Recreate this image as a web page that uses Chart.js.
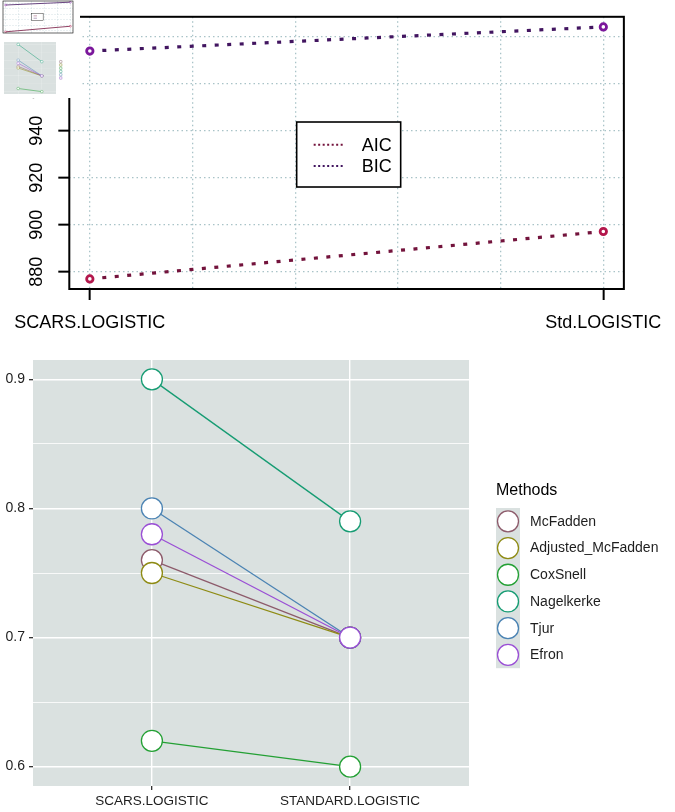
<!DOCTYPE html>
<html>
<head>
<meta charset="utf-8">
<title>AIC/BIC and pseudo R² comparison</title>
<script src="https://cdn.jsdelivr.net/npm/chart.js@4.4.1/dist/chart.umd.min.js"></script>
<style>
  html, body { margin:0; padding:0; background:#fff; }
  body { position:relative; width:675px; height:812px; overflow:hidden; }
  canvas { position:absolute; display:block; }
  #icChart { left:0; top:0; }
  #r2Chart { left:0; top:340px; }
  #inset { position:absolute; left:0; top:0; width:80px; height:98px; background:#fff; }
  #insetTop { left:0; top:0; }
  #insetBottom { left:0; top:40px; }
</style>
</head>
<body>
<canvas id="icChart" width="675" height="340"></canvas>
<canvas id="r2Chart" width="675" height="472"></canvas>
<div id="inset">
  <canvas id="insetTop" width="80" height="41"></canvas>
  <canvas id="insetBottom" width="80" height="57"></canvas>
</div>
<script>
// ---------------- data ----------------
const icModels = ['SCARS.LOGISTIC', 'Std.LOGISTIC'];
const aicValues = [876.9, 897.1];
const bicValues = [974.0, 984.3];
const icYTicks = [880, 900, 920, 940, 960, 980];
const icXGrid = [1, 1.2, 1.4, 1.6, 1.8, 2];

const r2Models = ['SCARS.LOGISTIC', 'STANDARD.LOGISTIC'];
const r2Methods = ['McFadden', 'Adjusted_McFadden', 'CoxSnell', 'Nagelkerke', 'Tjur', 'Efron'];
const mcFadden = [0.76, 0.70];
const adjustedMcFadden = [0.75, 0.70];
const coxSnell = [0.62, 0.60];
const nagelkerke = [0.90, 0.79];
const tjur = [0.80, 0.70];
const efron = [0.78, 0.70];
const r2YTicks = [0.6, 0.65, 0.7, 0.75, 0.8, 0.85, 0.9];
const r2YLabels = ['0.6', '', '0.7', '', '0.8', '', '0.9'];
const legendTitle = 'Methods';

// ---------------- styles ----------------
const FONT = "'Liberation Sans', Arial, Helvetica, sans-serif";
const INK = '#000';
const R_GRID = '#a9c3c8';
const AIC_LINE = '#73133c', AIC_POINT = '#b3174c';
const BIC_LINE = '#421560', BIC_POINT = '#7b179b';
const PANEL = '#dae1e0';
const GG_TEXT = '#1e1e1e';
const r2Colors = ['#8d5b6b', '#8e8b14', '#23a034', '#169c73', '#4b83b3', '#9a4fd5'];
Chart.defaults.font.family = FONT;

// ---------------- plugins ----------------
const rBox = {
  id: 'rBox',
  afterDraw(chart, _a, o) {
    const { ctx, chartArea: a } = chart;
    ctx.save();
    ctx.strokeStyle = INK; ctx.lineWidth = o.width;
    ctx.strokeRect(a.left, a.top, a.right - a.left, a.bottom - a.top);
    ctx.restore();
  }
};

const icLegend = {
  id: 'icLegend',
  afterDraw(chart, _a, o) {
    const { ctx, chartArea: a } = chart;
    const s = o.scale;
    const x0 = a.left + o.fx * (a.right - a.left);
    const y0 = a.top + o.fy * (a.bottom - a.top);
    ctx.save();
    ctx.fillStyle = '#fff';
    ctx.fillRect(x0, y0, 104 * s, 65 * s);
    ctx.strokeStyle = INK; ctx.lineWidth = Math.max(1.6 * s, 0.4);
    ctx.strokeRect(x0, y0, 104 * s, 65 * s);
    chart.data.datasets.forEach((ds, i) => {
      const y = y0 + (22.7 + 21.3 * i) * s;
      ctx.setLineDash(o.dash);
      ctx.strokeStyle = ds.borderColor; ctx.lineWidth = Math.max(2 * s, 0.4);
      ctx.beginPath(); ctx.moveTo(x0 + 17 * s, y); ctx.lineTo(x0 + 48 * s, y); ctx.stroke();
      if (o.text) {
        ctx.setLineDash([]);
        ctx.fillStyle = INK; ctx.font = `${18 * s}px ${FONT}`;
        ctx.textAlign = 'left'; ctx.textBaseline = 'middle';
        ctx.fillText(ds.label, x0 + 65 * s, y + 1 * s);
      }
    });
    ctx.restore();
  }
};

const ggPanel = {
  id: 'ggPanel',
  beforeDraw(chart, _a, o) {
    const { ctx, chartArea: a } = chart;
    ctx.save();
    ctx.fillStyle = o.color;
    ctx.fillRect(a.left, a.top, a.right - a.left, a.bottom - a.top);
    ctx.restore();
  }
};

const ggLegend = {
  id: 'ggLegend',
  afterDraw(chart, _a, o) {
    const { ctx, chartArea: a } = chart;
    const s = (a.bottom - a.top) / 426;
    const kx = a.right + 27 * s, kw = 24 * s, rowH = 26.7 * s, ky = a.top + 148 * s;
    const ds = chart.data.datasets;
    ctx.save();
    ctx.textAlign = 'left'; ctx.textBaseline = 'middle';
    if (o.text) {
      ctx.fillStyle = INK; ctx.font = `${16 * s}px ${FONT}`;
      ctx.fillText(o.title, kx, a.top + 130.7 * s);
    }
    ctx.fillStyle = o.keyFill;
    ctx.fillRect(kx, ky, kw, rowH * ds.length);
    ds.forEach((d, i) => {
      const cy = ky + rowH * (i + 0.5), cx = kx + kw / 2;
      ctx.beginPath(); ctx.arc(cx, cy, 10.5 * s, 0, Math.PI * 2);
      ctx.fillStyle = '#fff'; ctx.fill();
      ctx.strokeStyle = d.borderColor; ctx.lineWidth = Math.max(1.3 * s, 0.4); ctx.stroke();
      if (o.text) {
        ctx.fillStyle = GG_TEXT; ctx.font = `${14 * s}px ${FONT}`;
        ctx.fillText(d.label, kx + 34 * s, cy + 0.5 * s);
      }
    });
    ctx.restore();
  }
};

// ---------------- chart builders ----------------
function icConfig(mini) {
  const positions = icModels.map((_, i) => i + 1);
  const mk = (label, values, line, point) => ({
    label,
    data: positions.map((x, i) => ({ x, y: values[i] })),
    borderColor: line, borderWidth: mini ? 0.8 : 3.2,
    borderDash: mini ? [] : [4, 8.5], borderCapStyle: 'butt',
    pointRadius: mini ? 0.9 : 3.2, pointBorderWidth: mini ? 0.5 : 2.8,
    pointBorderColor: point, pointBackgroundColor: '#fff',
    tension: 0, fill: false
  });
  const gridOpts = (marked) => ({
    color: R_GRID, lineWidth: mini ? 0.5 : 1.3,
    drawTicks: !mini, tickLength: 11, tickWidth: 2, tickBorderDash: [],
    tickColor: c => (c.tick && marked(c.tick.value)) ? INK : 'rgba(0,0,0,0)'
  });
  const gridDash = mini ? [0.5, 1] : [1.5, 3];
  return {
    type: 'line',
    data: { datasets: [mk('AIC', aicValues, AIC_LINE, AIC_POINT), mk('BIC', bicValues, BIC_LINE, BIC_POINT)] },
    options: {
      responsive: false, animation: false, devicePixelRatio: 1, events: [],
      layout: { autoPadding: false, padding: mini ? { left: 3, top: 1, right: 7, bottom: 8 } : { left: 0, top: 7, right: 46, bottom: 0 } },
      plugins: {
        legend: { display: false }, tooltip: { enabled: false },
        rBox: { width: mini ? 0.6 : 2 },
        icLegend: { fx: 0.41, fy: 0.3865, scale: mini ? 0.11 : 1, text: !mini, dash: mini ? [] : [2, 2.5] }
      },
      scales: {
        x: {
          type: 'linear', bounds: 'data', min: 0.96, max: 2.04,
          afterBuildTicks: s => { s.ticks = icXGrid.map(v => ({ value: v })); },
          afterFit: s => { s.height = mini ? 0 : 51; },
          ticks: {
            display: !mini, autoSkip: false, maxRotation: 0, minRotation: 0, padding: 12,
            color: INK, font: { size: 18 },
            callback: v => { const i = positions.indexOf(v); return i >= 0 ? icModels[i] : ''; }
          },
          grid: gridOpts(v => positions.includes(v)),
          border: { display: false, dash: gridDash }
        },
        y: {
          type: 'linear', bounds: 'data', min: 872.6, max: 988.6,
          afterBuildTicks: s => { s.ticks = icYTicks.map(v => ({ value: v })); },
          afterFit: s => { s.width = mini ? 0 : 68; },
          ticks: {
            display: !mini, autoSkip: false, minRotation: 90, maxRotation: 90, crossAlign: 'center',
            padding: 6, color: INK, font: { size: 18 }
          },
          grid: gridOpts(() => true),
          border: { display: false, dash: gridDash }
        }
      }
    },
    plugins: [rBox, icLegend]
  };
}

function r2Config(mini) {
  const positions = r2Models.map((_, i) => i + 1);
  const series = [mcFadden, adjustedMcFadden, coxSnell, nagelkerke, tjur, efron];
  const k = mini ? 0.122 : 1;
  const isMajor = v => { const i = r2YTicks.indexOf(v); return i >= 0 && r2YLabels[i] !== ''; };
  const datasets = r2Methods.map((m, i) => ({
    label: m,
    data: positions.map((x, j) => ({ x, y: series[i][j] })),
    borderColor: r2Colors[i], borderWidth: Math.max(1.3 * k, 0.5),
    pointRadius: 10.5 * k, pointBorderWidth: Math.max(1.3 * k, 0.4),
    pointBorderColor: r2Colors[i], pointBackgroundColor: '#fff',
    tension: 0, fill: false, order: r2Methods.length - 1 - i
  }));
  return {
    type: 'line',
    data: { datasets },
    options: {
      responsive: false, animation: false, devicePixelRatio: 1, events: [],
      layout: { autoPadding: false, padding: mini ? { left: 4, top: 2, right: 24, bottom: 3 } : { left: 0, top: 20, right: 206, bottom: 0 } },
      plugins: {
        legend: { display: false }, tooltip: { enabled: false },
        ggPanel: { color: PANEL },
        ggLegend: { text: !mini, title: legendTitle, keyFill: PANEL }
      },
      scales: {
        x: {
          type: 'linear', bounds: 'data', min: 0.4, max: 2.6,
          afterBuildTicks: s => { s.ticks = positions.map(v => ({ value: v })); },
          afterFit: s => { s.height = mini ? 0 : 26; },
          ticks: {
            display: !mini, autoSkip: false, maxRotation: 0, minRotation: 0, padding: 3.6,
            color: GG_TEXT, font: { size: 13.5 },
            callback: v => { const i = positions.indexOf(v); return i >= 0 ? r2Models[i] : ''; }
          },
          grid: { color: '#fff', lineWidth: 1.4 * k, drawTicks: !mini, tickLength: 4, tickWidth: 1.2, tickColor: GG_TEXT },
          border: { display: false }
        },
        y: {
          type: 'linear', bounds: 'data', min: 0.585, max: 0.915,
          afterBuildTicks: s => { s.ticks = r2YTicks.map(v => ({ value: v })); },
          afterFit: s => { s.width = mini ? 0 : 33; },
          ticks: {
            display: !mini, autoSkip: false, padding: 4, color: GG_TEXT, font: { size: 14 },
            callback: v => { const i = r2YTicks.indexOf(v); return i >= 0 ? r2YLabels[i] : ''; }
          },
          grid: {
            color: '#fff',
            lineWidth: c => ((c.tick && isMajor(c.tick.value)) ? 1.4 : 0.8) * k,
            drawTicks: !mini, tickLength: 4, tickWidth: 1.2,
            tickColor: c => (c.tick && isMajor(c.tick.value)) ? GG_TEXT : 'rgba(0,0,0,0)'
          },
          border: { display: false }
        }
      }
    },
    plugins: [ggPanel, ggLegend]
  };
}

new Chart(document.getElementById('icChart'), icConfig(false));
new Chart(document.getElementById('r2Chart'), r2Config(false));
new Chart(document.getElementById('insetTop'), icConfig(true));
new Chart(document.getElementById('insetBottom'), r2Config(true));
</script>
</body>
</html>
